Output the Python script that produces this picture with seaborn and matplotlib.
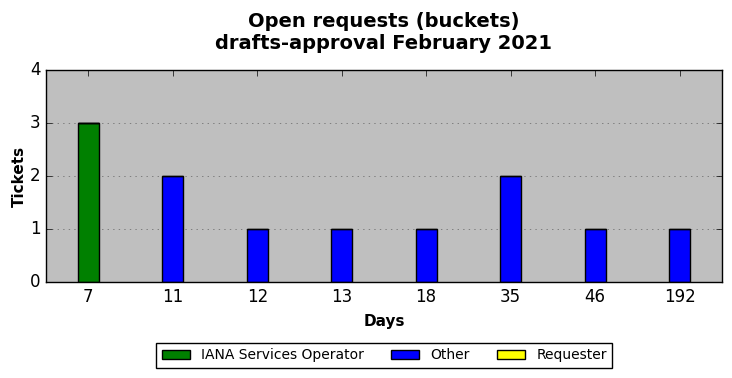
import numpy as np
import pandas as pd
import matplotlib
matplotlib.use('Agg')
import matplotlib.pyplot as plt
import seaborn as sns
from matplotlib.patches import Patch

days = ['7', '11', '12', '13', '18', '35', '46', '192']
iana = [3, 0, 0, 0, 0, 0, 0, 0]
other = [0, 2, 1, 1, 1, 2, 1, 1]
requester = [0, 0, 0, 0, 0, 0, 0, 0]

plt.style.use('classic')
plt.rcParams['font.family'] = ['DejaVu Sans']
plt.rcParams['figure.facecolor'] = 'white'

fig = plt.figure(figsize=(7.32, 3.78), dpi=100)
ax = fig.add_axes([0.063, 0.254, 0.923, 0.561])
ax.set_facecolor('#bfbfbf')

iana_a = np.array(iana)
other_a = np.array(other)

series = [
    ('IANA Services Operator', iana, np.zeros(len(days)), 'green'),
    ('Other', other, iana_a, 'blue'),
    ('Requester', requester, iana_a + other_a, 'yellow'),
]
for name, vals, base, col in series:
    df = pd.DataFrame({'Days': days, 'Tickets': vals})
    sns.barplot(data=df, x='Days', y='Tickets', order=days, color=col,
                saturation=1, width=0.25, bottom=base, edgecolor='black',
                linewidth=1, errorbar=None, ax=ax)

ax.set_xlim(-0.5, len(days) - 0.5)
ax.set_ylim(0, 4)
ax.set_yticks([0, 1, 2, 3, 4])
ax.yaxis.grid(True, linestyle=':', color='0.45', linewidth=0.6)
ax.xaxis.grid(False)
ax.set_axisbelow(True)
ax.tick_params(labelsize=12)
ax.set_xlabel('Days', fontsize=11, fontweight='bold', labelpad=6)
ax.set_ylabel('Tickets', fontsize=11, fontweight='bold', labelpad=2)
ax.set_title('Open requests (buckets)\ndrafts-approval February 2021',
             fontsize=14, fontweight='bold', pad=15)

handles = [Patch(facecolor=c, edgecolor='black', label=n) for n, _, _, c in series]
fig.legend(handles=handles, loc='center', bbox_to_anchor=(0.525, 0.06),
           ncol=3, fontsize=10, frameon=True, fancybox=False,
           handlelength=2, columnspacing=2.0)

fig.savefig('out.png', dpi=100, facecolor='white')
